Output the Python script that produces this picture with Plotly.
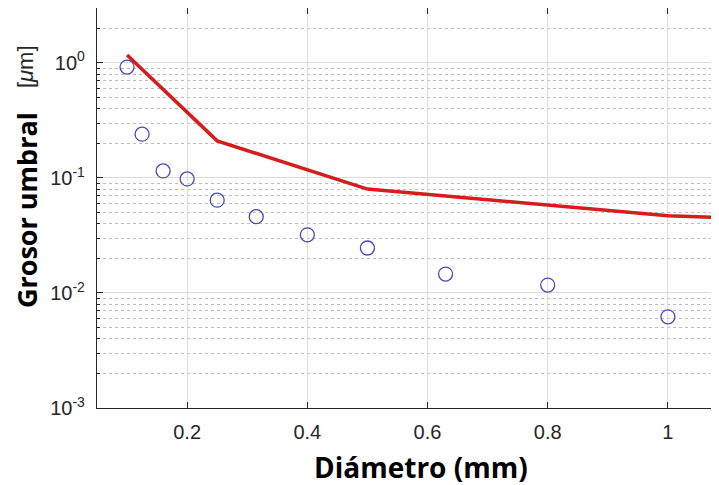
import plotly.graph_objects as go

diam_pts = [0.1, 0.125, 0.16, 0.2, 0.25, 0.315, 0.4, 0.5, 0.63, 0.8, 1.0]
grosor_pts = [0.92, 0.24, 0.115, 0.098, 0.064, 0.046, 0.032, 0.0246, 0.0146, 0.0117, 0.0062]

diam_line = [0.1, 0.25, 0.5, 1.0, 1.1]
grosor_line = [1.17, 0.21, 0.080, 0.047, 0.045]

xtick_vals = [0.2, 0.4, 0.6, 0.8, 1.0]
xtick_text = ["0.2", "0.4", "0.6", "0.8", "1"]
ytick_vals = [0.001, 0.01, 0.1, 1]
ytick_text = ["10<sup>-3</sup>", "10<sup>-2</sup>", "10<sup>-1</sup>", "10<sup>0</sup>"]
decades = [0.001, 0.01, 0.1, 1]
minor_digits = [2, 3, 4, 5, 6, 7, 8, 9]
y_minor = [d * m for d in decades for m in minor_digits]

fig = go.Figure()
fig.add_trace(go.Scatter(
    x=diam_line, y=grosor_line, mode="lines",
    line=dict(color="#d51d1d", width=3.5), showlegend=False))
fig.add_trace(go.Scatter(
    x=diam_pts, y=grosor_pts, mode="markers",
    marker=dict(symbol="circle-open", size=14, color="#4a4ab8", line=dict(width=1.3)),
    showlegend=False))

axis_common = dict(showline=True, linecolor="#262626", linewidth=1.3, mirror="ticks",
                   ticks="inside", tickcolor="#262626", zeroline=False, automargin=False,
                   tickfont=dict(family="Liberation Sans, Arial", size=20, color="#262626"))

fig.update_xaxes(range=[0.05, 1.085], tickvals=xtick_vals, ticktext=xtick_text,
                 showgrid=True, gridcolor="#dedede", gridwidth=1, ticklen=6,
                 ticklabelstandoff=6, **axis_common)
fig.update_yaxes(type="log", range=[-3, 0.477], tickvals=ytick_vals, ticktext=ytick_text,
                 showgrid=True, gridcolor="#dcdcdc", gridwidth=1, ticklen=6,
                 ticklabelstandoff=7,
                 minor=dict(tickvals=y_minor, ticks="inside", ticklen=3, tickcolor="#262626",
                            showgrid=True, gridcolor="#bdbdbd", griddash="dot", gridwidth=1),
                 **axis_common)

fig.add_annotation(text="<b>Diámetro (mm)</b>", xref="paper", yref="paper",
                   x=0.521, y=-0.1475, xanchor="center", yanchor="middle", showarrow=False,
                   font=dict(family="Open Sans", size=28, color="black"))
fig.add_annotation(text="<b>Grosor umbral</b>", xref="paper", yref="paper",
                   x=-0.114, y=0.495, xanchor="center", yanchor="middle", textangle=-90,
                   showarrow=False, font=dict(family="Open Sans", size=27, color="black"))
fig.add_annotation(text="[<i>μ</i>m]", xref="paper", yref="paper",
                   x=-0.114, y=0.8525, xanchor="center", yanchor="middle", textangle=-90,
                   showarrow=False, font=dict(family="Liberation Sans", size=22, color="#262626"))

# page body has an 8px margin, so the figure is drawn 8px smaller and offset
fig.update_layout(width=711, height=477, margin=dict(l=89, r=0, t=0, b=77),
                  plot_bgcolor="white", paper_bgcolor="white")
fig.write_html("out.html")
